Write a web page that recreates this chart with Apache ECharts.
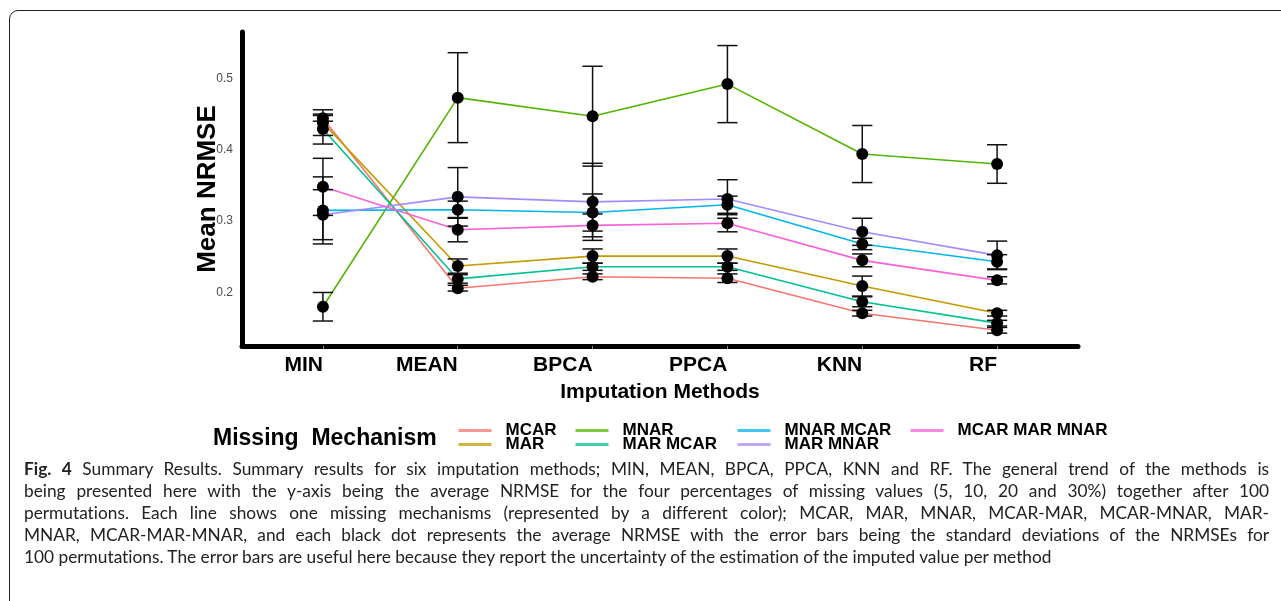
<!DOCTYPE html>
<html>
<head>
<meta charset="utf-8">
<script src="https://cdn.jsdelivr.net/npm/echarts@6/dist/echarts.min.js"></script>
<style>
  html, body { margin: 0; padding: 0; background: #fff; }
  body { width: 1281px; height: 601px; position: relative; overflow: hidden; }
  #frame { position: absolute; left: 9px; top: 10px; width: 1300px; height: 620px;
           border: 1.3px solid #222; border-radius: 9px; box-sizing: border-box; }
  #chart { position: absolute; left: 0; top: 0; width: 1281px; height: 601px; }
  #caption { position: absolute; left: 24px; top: 458px; width: 1245px;
             font-family: Lato, "Open Sans", sans-serif; font-size: 17.3px; color: #222;
             line-height: 21.9px; font-variant-ligatures: none; }
  #caption .l { text-align: justify; text-align-last: justify; white-space: nowrap; }
  #caption .last { text-align: left; white-space: nowrap; }
</style>
</head>
<body>
<div id="frame"></div>
<div id="chart"></div>
<div id="caption">
  <div class="l"><b>Fig. 4</b> Summary Results. Summary results for six imputation methods; MIN, MEAN, BPCA, PPCA, KNN and RF. The general trend of the methods is</div>
  <div class="l">being presented here with the y-axis being the average NRMSE for the four percentages of missing values (5, 10, 20 and 30%) together after 100</div>
  <div class="l">permutations. Each line shows one missing mechanisms (represented by a different color); MCAR, MAR, MNAR, MCAR-MAR, MCAR-MNAR, MAR-</div>
  <div class="l">MNAR, MCAR-MAR-MNAR, and each black dot represents the average NRMSE with the error bars being the standard deviations of the NRMSEs for</div>
  <div class="last">100 permutations. The error bars are useful here because they report the uncertainty of the estimation of the imputed value per method</div>
</div>
<script>
// ---- data ----
const methods = ['MIN', 'MEAN', 'BPCA', 'PPCA', 'KNN', 'RF'];
const mechanisms = ['MCAR', 'MAR', 'MNAR', 'MAR MCAR', 'MNAR MCAR', 'MAR MNAR', 'MCAR MAR MNAR'];
const colors = ['#F8766D', '#C49A00', '#53B400', '#00C094', '#00B6EB', '#A58AFF', '#FB61D7'];

const meanMCAR        = [0.444, 0.206, 0.222, 0.220, 0.171, 0.147];
const meanMAR         = [0.438, 0.237, 0.251, 0.251, 0.209, 0.171];
const meanMNAR        = [0.180, 0.473, 0.447, 0.492, 0.394, 0.380];
const meanMARMCAR     = [0.429, 0.219, 0.236, 0.236, 0.187, 0.157];
const meanMNARMCAR    = [0.315, 0.316, 0.312, 0.323, 0.268, 0.243];
const meanMARMNAR     = [0.309, 0.334, 0.327, 0.331, 0.285, 0.252];
const meanMCARMARMNAR = [0.348, 0.288, 0.294, 0.297, 0.245, 0.217];

const sdMCAR        = [0.004, 0.004, 0.004, 0.006, 0.004, 0.004];
const sdMAR         = [0.018, 0.010, 0.010, 0.010, 0.014, 0.004];
const sdMNAR        = [0.020, 0.063, 0.070, 0.054, 0.040, 0.027];
const sdMARMCAR     = [0.021, 0.006, 0.005, 0.005, 0.007, 0.004];
const sdMNARMCAR    = [0.047, 0.012, 0.026, 0.012, 0.008, 0.010];
const sdMARMNAR     = [0.035, 0.041, 0.054, 0.027, 0.019, 0.020];
const sdMCARMARMNAR = [0.040, 0.017, 0.016, 0.012, 0.009, 0.005];

const yTicks = [0.2, 0.3, 0.4, 0.5];

const means = [meanMCAR, meanMAR, meanMNAR, meanMARMCAR, meanMNARMCAR, meanMARMNAR, meanMCARMARMNAR];
const sds = [sdMCAR, sdMAR, sdMNAR, sdMARMCAR, sdMNARMCAR, sdMARMNAR, sdMCARMARMNAR];

// ---- build series ----
const FONT = '"Liberation Sans", Arial, sans-serif';
const series = [];
mechanisms.forEach((m, i) => {
  series.push({
    name: m, type: 'line', symbol: 'none', z: 2,
    lineStyle: { color: colors[i], width: 1.6 },
    itemStyle: { color: colors[i] },
    data: means[i].map((v, j) => [j, v])
  });
});
const errData = [];
const ptData = [];
mechanisms.forEach((m, i) => {
  means[i].forEach((v, j) => {
    errData.push([j, v - sds[i][j], v + sds[i][j]]);
    ptData.push([j, v]);
  });
});
series.push({
  type: 'custom', z: 3, silent: true,
  data: errData,
  renderItem: function (params, api) {
    const x = api.value(0);
    const lo = api.coord([x, api.value(1)]);
    const hi = api.coord([x, api.value(2)]);
    const hw = api.size([0.075, 0])[0];
    const st = { stroke: '#111', lineWidth: 1.5, fill: null };
    return { type: 'group', children: [
      { type: 'line', shape: { x1: lo[0], y1: lo[1], x2: hi[0], y2: hi[1] }, style: st },
      { type: 'line', shape: { x1: lo[0] - hw, y1: lo[1], x2: lo[0] + hw, y2: lo[1] }, style: st },
      { type: 'line', shape: { x1: hi[0] - hw, y1: hi[1], x2: hi[0] + hw, y2: hi[1] }, style: st }
    ]};
  }
});
series.push({
  type: 'scatter', z: 4, silent: true, symbol: 'circle', symbolSize: 12,
  itemStyle: { color: '#000', opacity: 1 }, data: ptData
});

// legend columns (2 items each, column-wise like ggplot)
const legendLefts = [457, 574, 736, 909];
const legends = legendLefts.map((lx, c) => ({
  orient: 'vertical', left: lx, top: 422, padding: 0, itemGap: -3, itemWidth: 33, itemHeight: 14,
  selectedMode: false,
  lineStyle: { width: 3, opacity: 0.75 },
  itemStyle: { opacity: 0 },
  data: mechanisms.slice(c * 2, c * 2 + 2),
  textStyle: { fontFamily: FONT, fontWeight: 'bold', fontSize: 17, color: '#000',
               padding: [0, 0, 0, 9] }
}));

const chart = echarts.init(document.getElementById('chart'), null, { renderer: 'canvas' });
chart.setOption({
  animation: false,
  grid: { left: 242, right: 203, top: 32, bottom: 255, containLabel: false },
  xAxis: {
    type: 'value', min: -0.6, max: 5.6,
    splitLine: { show: false },
    axisLine: { show: true, onZero: false, lineStyle: { color: '#000', width: 5, cap: 'round' } },
    axisTick: { show: true, customValues: [0, 1, 2, 3, 4, 5], length: 3, lineStyle: { color: '#888', width: 1 } },
    axisLabel: { customValues: [0, 1, 2, 3, 4, 5], formatter: v => methods[Math.round(v)],
                 align: 'right', margin: 9,
                 fontFamily: FONT, fontWeight: 'bold', fontSize: 21, color: '#000' },
    name: 'Imputation Methods', nameLocation: 'middle', nameGap: 36, nameMoveOverlap: false,
    nameTextStyle: { fontFamily: FONT, fontWeight: 'bold', fontSize: 21, color: '#000' }
  },
  yAxis: {
    type: 'value', min: 0.125, max: 0.565,
    splitLine: { show: false },
    axisLine: { show: true, onZero: false, lineStyle: { color: '#000', width: 5, cap: 'round' } },
    axisTick: { show: false },
    axisLabel: { customValues: yTicks, formatter: v => v.toFixed(1), margin: 9,
                 fontFamily: FONT, fontSize: 12, color: '#4D4D4D' },
    name: 'Mean NRMSE', nameLocation: 'middle', nameRotate: 90, nameGap: 21, nameMoveOverlap: false,
    nameTextStyle: { fontFamily: FONT, fontWeight: 'bold', fontSize: 26, color: '#000' }
  },
  legend: legends,
  graphic: [{
    type: 'text', left: 213, top: 427,
    style: { text: 'Missing  Mechanism', fontFamily: FONT, fontWeight: 'bold', fontSize: 23, fill: '#000' }
  }],
  series: series
});
</script>
</body>
</html>
